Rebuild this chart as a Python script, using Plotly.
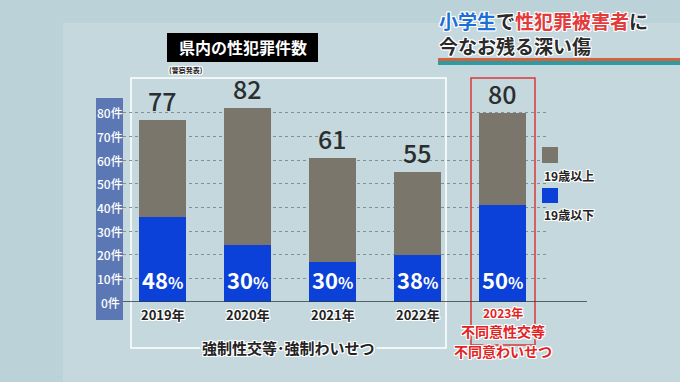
import plotly.graph_objects as go

# ---- data ----
years = ["2019年", "2020年", "2021年", "2022年", "2023年"]
totals = [77, 82, 61, 55, 80]
under19 = [36, 24, 17, 20, 41]
pct_labels = ["48", "30", "30", "38", "50"]
over19 = [t - u for t, u in zip(totals, under19)]
ytick_vals = [0, 10, 20, 30, 40, 50, 60, 70, 80]
ytick_text = [f"{v}件" for v in ytick_vals]
legend_names = ["19歳以上", "19歳以下"]

W, H = 680, 382
L, R, T, B = 123, 132, 89, 80
PW, PH = W - L - R, H - T - B

def px(x):
    return (x - L) / PW

def py(y):
    return (H - B - y) / PH

FONT = "Noto Sans CJK JP"
GRAY = "#7a766b"
BLUE = "#0b41d8"
RED = "#e3231f"
BG_IN = "#c4d8dd"
OUTLINE_W = "-1px -1px 0 #fff, 1px -1px 0 #fff, -1px 1px 0 #fff, 1px 1px 0 #fff, 0 1px 0 #fff, 0 -1px 0 #fff, 1px 0 0 #fff, -1px 0 0 #fff"

xs = list(range(len(years)))
fig = go.Figure()
fig.add_trace(go.Bar(x=xs, y=under19, marker=dict(color=BLUE, line=dict(width=0)),
                     width=0.553, name=legend_names[1], showlegend=False, hoverinfo="skip"))
fig.add_trace(go.Bar(x=xs, y=over19, marker=dict(color=GRAY, line=dict(width=0)),
                     width=0.553, name=legend_names[0], showlegend=False, hoverinfo="skip"))

shapes = []
shapes.append(dict(type="rect", xref="paper", yref="paper", x0=px(63), x1=px(680), y0=py(382), y1=py(23),
                   fillcolor=BG_IN, line=dict(width=0), layer="below"))
shapes.append(dict(type="rect", xref="paper", yref="paper", x0=px(96), x1=px(123), y0=py(320), y1=py(98),
                   fillcolor="#5b78b5", line=dict(width=0), layer="below"))
shapes.append(dict(type="rect", xref="paper", yref="paper", x0=px(131), x1=px(446), y0=py(348), y1=py(78),
                   line=dict(color="white", width=1.5), layer="below"))
shapes.append(dict(type="rect", xref="paper", yref="paper", x0=px(471), x1=px(535), y0=py(345), y1=py(78),
                   line=dict(color="#d9383a", width=1.5), layer="above"))
shapes.append(dict(type="line", xref="paper", yref="y", x0=px(123), x1=px(587), y0=0, y1=0,
                   line=dict(color="#2d3a40", width=1.5), layer="above"))
shapes.append(dict(type="rect", xref="paper", yref="paper", x0=px(167), x1=px(318), y0=py(62), y1=py(33),
                   fillcolor="black", line=dict(width=0)))
shapes.append(dict(type="rect", xref="paper", yref="paper", x0=px(438), x1=px(680), y0=py(61), y1=py(58),
                   fillcolor="#d4603c", line=dict(width=0)))
shapes.append(dict(type="rect", xref="paper", yref="paper", x0=px(438), x1=px(680), y0=py(65), y1=py(61),
                   fillcolor="#2b9ca3", line=dict(width=0)))
shapes.append(dict(type="rect", xref="paper", yref="paper", x0=px(542), x1=px(558), y0=py(163), y1=py(147),
                   fillcolor=GRAY, line=dict(width=0)))
shapes.append(dict(type="rect", xref="paper", yref="paper", x0=px(542), x1=px(558), y0=py(203), y1=py(188),
                   fillcolor=BLUE, line=dict(width=0)))

ann = []

def pa(x, y, text, font, xanchor="center", yanchor="middle", **kw):
    ann.append(dict(x=px(x), xref="paper", y=py(y), yref="paper", text=text, showarrow=False,
                    xanchor=xanchor, yanchor=yanchor, font=font, **kw))

for v, t in zip(ytick_vals, ytick_text):
    ann.append(dict(x=px(110), xref="paper", y=v, yref="y", text=t, showarrow=False,
                    xanchor="center", yanchor="middle",
                    font=dict(family=FONT, size=12, color="white", weight=500)))
for i, t in enumerate(totals):
    ann.append(dict(x=i, y=t, text=str(t), showarrow=False, xanchor="center", yanchor="bottom", yshift=0,
                    font=dict(family=FONT, size=25, color="#2b2e30", weight=500)))
for i, p in enumerate(pct_labels):
    ann.append(dict(x=i, y=0, text=f"{p}<span style='font-size:16px'>%</span>", showarrow=False,
                    xanchor="center", yanchor="bottom", yshift=5,
                    font=dict(family=FONT, size=22, color="white", weight="bold")))
for i, yl in enumerate(years[:4]):
    ann.append(dict(x=i, y=0, text=yl, showarrow=False, xanchor="center", yanchor="top", yshift=-1,
                    font=dict(family=FONT, size=13, color="#222", weight="bold", shadow=OUTLINE_W)))
pa(503, 312, years[4], dict(family=FONT, size=12, color=RED, weight="bold", shadow=OUTLINE_W))
pa(503, 331, "不同意性交等", dict(family=FONT, size=14, color=RED, weight="bold", shadow=OUTLINE_W))
pa(503, 351, "不同意わいせつ", dict(family=FONT, size=14, color=RED, weight="bold", shadow=OUTLINE_W))
pa(288, 347, "強制性交等･強制わいせつ", dict(family=FONT, size=15, color="#222", weight="bold", shadow=OUTLINE_W),
   bgcolor=BG_IN, borderpad=1)
pa(542, 175, legend_names[0], dict(family=FONT, size=12, color="#222", weight="bold", shadow=OUTLINE_W),
   xanchor="left")
pa(542, 214, legend_names[1], dict(family=FONT, size=12, color="#222", weight="bold", shadow=OUTLINE_W),
   xanchor="left")
pa(243, 47, "県内の性犯罪件数", dict(family=FONT, size=16, color="white", weight="bold"))
pa(167, 70, "(警察発表)", dict(family=FONT, size=7, color="#222", weight="bold", shadow=OUTLINE_W),
   xanchor="left")
pa(437, 33,
   "<span style='color:#1c6fd6'>小学生</span>で<span style='color:#e33b3b'>性犯罪被害者</span>に<br>今なお残る深い傷",
   dict(family=FONT, size=19, color="#2a2a2a", weight="bold", shadow=OUTLINE_W), xanchor="left", align="left")

fig.update_layout(
    width=W, height=H, barmode="stack",
    margin=dict(l=L, r=R, t=T, b=B, pad=0),
    paper_bgcolor="#bcd2d9", plot_bgcolor="rgba(0,0,0,0)",
    xaxis=dict(range=[-0.465, 4.535], showgrid=False, zeroline=False, showticklabels=False, fixedrange=True),
    yaxis=dict(range=[0, 90], tickvals=ytick_vals[1:], showticklabels=False, showgrid=True,
               gridcolor="#7f9097", griddash="dot", gridwidth=1, zeroline=False, fixedrange=True),
    shapes=shapes, annotations=ann, showlegend=False, hovermode=False,
)

fig.write_html("out.html", config={"displayModeBar": False},
               post_script="document.body.style.margin='0';document.body.style.overflow='hidden';")
